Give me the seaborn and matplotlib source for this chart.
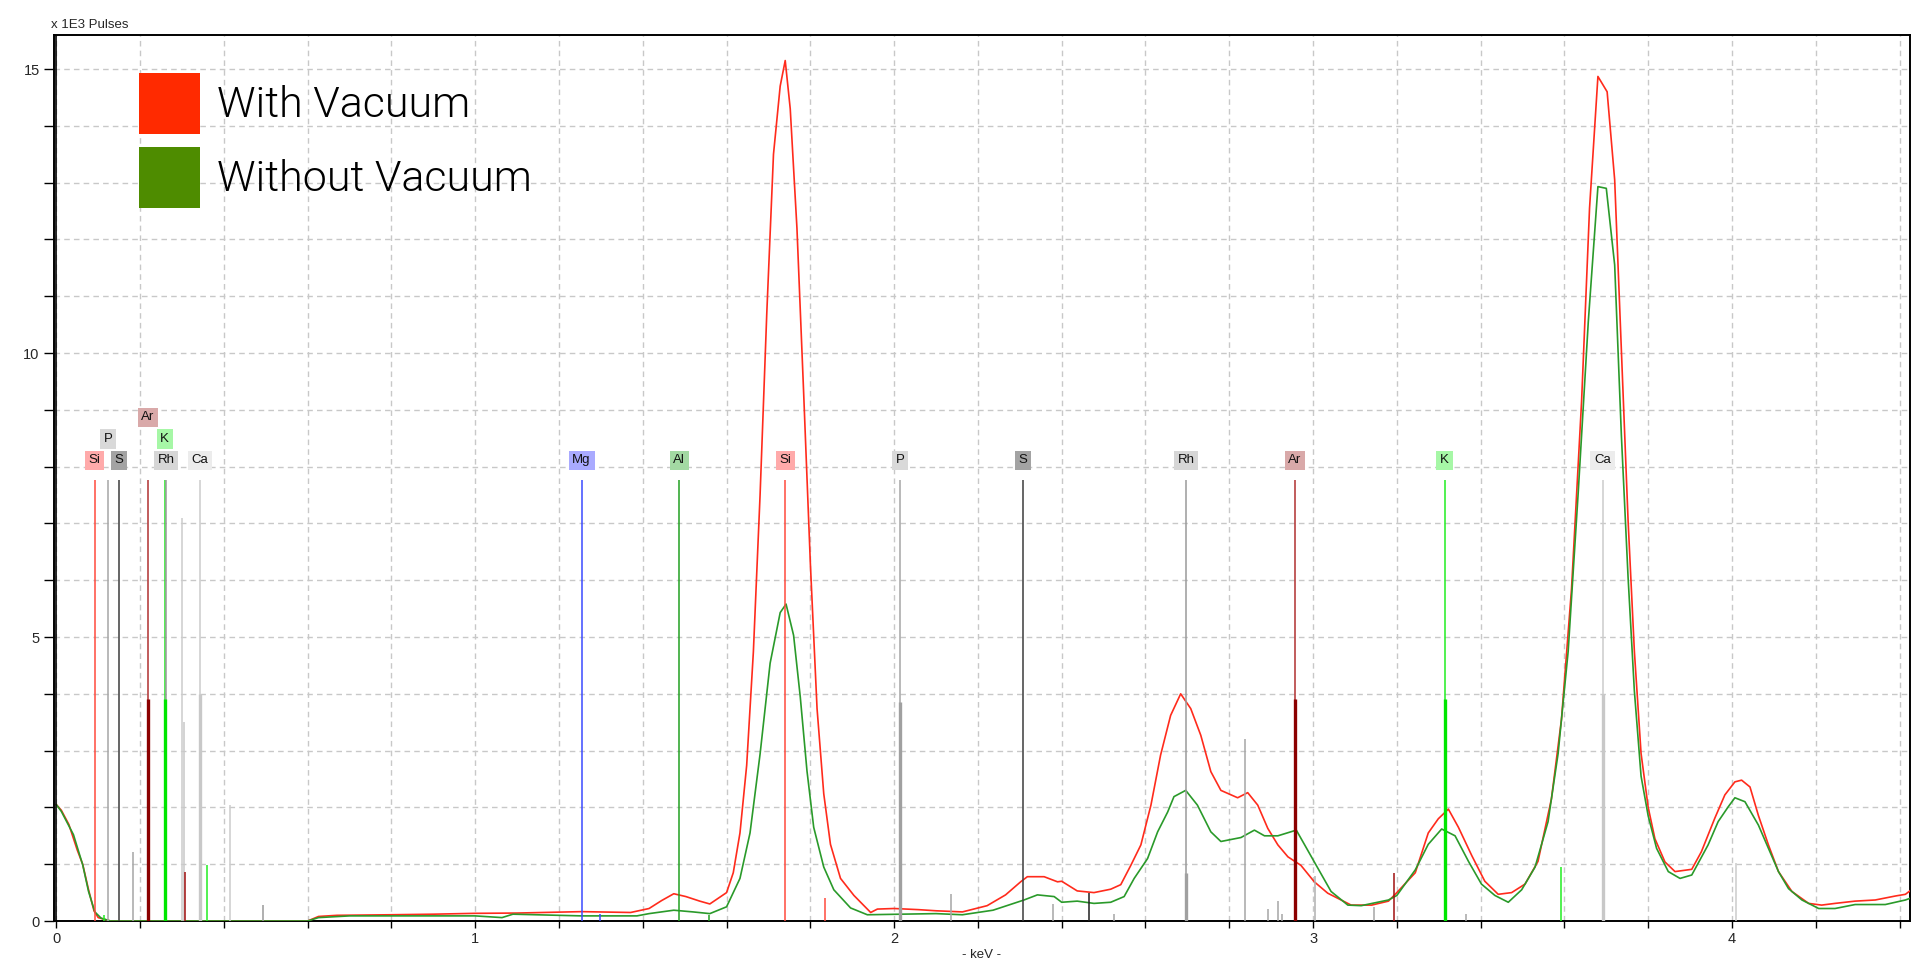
import matplotlib
matplotlib.use("Agg")
import matplotlib.pyplot as plt
from matplotlib.patches import Patch
from matplotlib.ticker import MultipleLocator
import pandas as pd
import seaborn as sns

# spectra: energy in keV, counts in 1E3 pulses
red_kev = [0.0, 0.012, 0.03, 0.05, 0.063, 0.077, 0.09, 0.1, 0.115, 0.13, 0.6, 0.626, 0.67, 0.8, 0.9,
           1.0, 1.1, 1.254, 1.371, 1.415, 1.445, 1.474, 1.503, 1.536, 1.56, 1.6, 1.616, 1.632, 1.648,
           1.664, 1.68, 1.696, 1.712, 1.728, 1.74, 1.752, 1.768, 1.784, 1.8, 1.816, 1.832, 1.848, 1.872,
           1.904, 1.944, 1.96, 2.0, 2.058, 2.1, 2.163, 2.222, 2.266, 2.302, 2.318, 2.358, 2.39, 2.4,
           2.437, 2.477, 2.517, 2.541, 2.565, 2.589, 2.613, 2.636, 2.66, 2.684, 2.708, 2.732, 2.756,
           2.78, 2.82, 2.844, 2.868, 2.892, 2.916, 2.94, 2.971, 3.003, 3.035, 3.067, 3.091, 3.14, 3.18,
           3.2, 3.244, 3.275, 3.299, 3.323, 3.347, 3.379, 3.41, 3.442, 3.474, 3.506, 3.537, 3.569,
           3.593, 3.617, 3.641, 3.66, 3.68, 3.702, 3.72, 3.736, 3.752, 3.767, 3.783, 3.8, 3.816, 3.84,
           3.864, 3.904, 3.927, 3.959, 3.983, 4.007, 4.023, 4.043, 4.063, 4.087, 4.111, 4.143, 4.183,
           4.214, 4.246, 4.294, 4.342, 4.39, 4.414, 4.43, 4.44]
red_cps = [2.05, 1.95, 1.7, 1.25, 1.0, 0.55, 0.18, 0.06, 0.03, 0.0, 0.0, 0.08, 0.1, 0.11, 0.12,
           0.135, 0.14, 0.165, 0.15, 0.22, 0.36, 0.48, 0.43, 0.35, 0.3, 0.5, 0.85, 1.55, 2.74,
           4.74, 7.5, 10.7, 13.5, 14.7, 15.15, 14.3, 12.2, 9.3, 6.3, 3.74, 2.24, 1.35, 0.75,
           0.45, 0.15, 0.21, 0.22, 0.2, 0.18, 0.16, 0.27, 0.46, 0.69, 0.78, 0.78, 0.69, 0.7,
           0.53, 0.5, 0.56, 0.64, 0.98, 1.34, 2.04, 2.92, 3.62, 4.0, 3.74, 3.27, 2.63,
           2.3, 2.17, 2.26, 2.04, 1.63, 1.34, 1.13, 0.98, 0.69, 0.49, 0.37, 0.28, 0.28, 0.35,
           0.5, 0.85, 1.55, 1.8, 1.97, 1.65, 1.15, 0.7, 0.47, 0.5, 0.65, 1.05, 2.15,
           3.55, 5.85, 9.15, 12.55, 14.87, 14.6, 13.05, 10.05, 7.05, 4.75, 2.95, 2.0, 1.45, 1.04,
           0.87, 0.91, 1.22, 1.81, 2.22, 2.45, 2.48, 2.36, 1.86, 1.34, 0.87, 0.52, 0.31,
           0.28, 0.31, 0.35, 0.37, 0.44, 0.47, 0.56, 0.57]

green_kev = [0.0, 0.012, 0.041, 0.063, 0.077, 0.092, 0.107, 0.129, 0.6, 0.626, 0.7, 1.0, 1.064, 1.09,
             1.254, 1.386, 1.415, 1.474, 1.52, 1.56, 1.6, 1.632, 1.656, 1.68, 1.704, 1.728, 1.742,
             1.76, 1.776, 1.792, 1.808, 1.832, 1.856, 1.896, 1.936, 2.016, 2.1, 2.163, 2.236, 2.31,
             2.342, 2.382, 2.4, 2.437, 2.477, 2.517, 2.549, 2.573, 2.605, 2.629, 2.653, 2.668, 2.696,
             2.724, 2.756, 2.78, 2.828, 2.86, 2.884, 2.916, 2.96, 2.98, 3.003, 3.043, 3.083, 3.115,
             3.18, 3.2, 3.244, 3.275, 3.307, 3.339, 3.371, 3.402, 3.434, 3.466, 3.498, 3.53, 3.561,
             3.585, 3.609, 3.633, 3.657, 3.68, 3.7, 3.72, 3.736, 3.752, 3.767, 3.783, 3.8, 3.82,
             3.848, 3.876, 3.904, 3.943, 3.967, 3.991, 4.007, 4.031, 4.063, 4.087, 4.111, 4.135,
             4.167, 4.207, 4.246, 4.294, 4.366, 4.414, 4.44]
green_cps = [2.05, 1.93, 1.52, 0.99, 0.52, 0.16, 0.05, 0.0, 0.0, 0.06, 0.09, 0.09, 0.06, 0.12,
             0.09, 0.09, 0.13, 0.19, 0.16, 0.13, 0.25, 0.75, 1.55, 2.94, 4.54, 5.43, 5.58,
             5.03, 3.94, 2.64, 1.65, 0.95, 0.55, 0.23, 0.11, 0.12, 0.13, 0.11, 0.19, 0.37,
             0.46, 0.43, 0.33, 0.35, 0.31, 0.33, 0.43, 0.75, 1.1, 1.57, 1.92, 2.19, 2.3,
             2.04, 1.57, 1.4, 1.47, 1.6, 1.5, 1.5, 1.6, 1.34, 1.04, 0.52, 0.28, 0.27,
             0.37, 0.45, 0.9, 1.35, 1.62, 1.5, 1.05, 0.65, 0.45, 0.33, 0.55, 0.95, 1.75,
             2.95, 4.75, 7.55, 10.55, 12.93, 12.9, 11.55, 8.55, 6.05, 4.05, 2.55, 1.85, 1.28,
             0.87, 0.75, 0.81, 1.34, 1.75, 2.01, 2.17, 2.1, 1.69, 1.28, 0.87, 0.57,
             0.37, 0.22, 0.22, 0.29, 0.29, 0.37, 0.44]

# labelled element markers
el_names = ["Si", "P", "S", "Ar", "K", "Rh", "Ca",
            "Mg", "Al", "Si", "P", "S", "Rh", "Ar", "K", "Ca"]
el_kev = [0.092, 0.124, 0.150, 0.219, 0.259, 0.262, 0.343,
          1.254, 1.487, 1.740, 2.014, 2.308, 2.697, 2.957, 3.314, 3.691]
el_row = [0, 1, 0, 2, 1, 0, 0,
          0, 0, 0, 0, 0, 0, 0, 0, 0]
el_line_col = ["#ff4a3d", "#a6a6a6", "#3c3c3c", "#b03030", "#22ee22", "#9a9a9a", "#cccccc",
               "#3a4aff", "#22a022", "#ff4a3d", "#a6a6a6", "#3c3c3c", "#9a9a9a", "#b03030", "#22ee22", "#cccccc"]
el_box_col = ["#ffaaaa", "#d9d9d9", "#a3a3a3", "#d9a9a9", "#a6f7a6", "#d6d6d6", "#ececec",
              "#a9aaff", "#a3d9a3", "#ffaaaa", "#d9d9d9", "#a3a3a3", "#d6d6d6", "#d9a9a9", "#a6f7a6", "#ececec"]
marker_top = 7.76
row_y = [8.11, 8.49, 8.87]

# relative line intensities (partial height bars)
bar_kev = [0.219, 0.259, 0.343, 2.014, 2.697, 2.957, 3.314, 3.691,
           0.115, 0.183, 0.301, 0.305, 0.308, 0.360, 0.414, 0.494,
           1.298, 1.557, 1.836, 2.136, 2.380, 2.465, 2.524, 2.838, 2.892, 2.917, 2.926,
           3.004, 3.146, 3.194, 3.365, 3.591, 4.010]
bar_h = [3.9, 3.9, 4.0, 3.85, 0.84, 3.9, 3.9, 4.0,
         0.1, 1.21, 7.1, 3.5, 0.86, 0.98, 2.04, 0.28,
         0.12, 0.1, 0.41, 0.48, 0.3, 0.5, 0.12, 3.2, 0.22, 0.36, 0.12,
         0.79, 0.25, 0.84, 0.12, 0.95, 1.03]
bar_col = ["#8b0000", "#00e600", "#c8c8c8", "#a0a0a0", "#a0a0a0", "#8b0000", "#00e600", "#c8c8c8",
           "#22ee22", "#a6a6a6", "#cccccc", "#c8c8c8", "#a01010", "#22ee22", "#cccccc", "#9a9a9a",
           "#3a4aff", "#22a022", "#ff4a3d", "#a6a6a6", "#a6a6a6", "#202020", "#a6a6a6", "#a6a6a6",
           "#a6a6a6", "#a6a6a6", "#a6a6a6", "#b0b0b0", "#a6a6a6", "#a01010", "#a6a6a6", "#22ee22", "#cccccc"]
bar_w = [2.4, 2.4, 2.4, 2.4, 2.4, 2.4, 2.4, 2.4] + [1.1] * 25

legend_labels = ["With Vacuum", "Without Vacuum"]
legend_cols = ["#ff2a00", "#4e8c00"]

sns.set_style("white")
plt.rcParams["font.family"] = ["Liberation Sans", "DejaVu Sans"]

fig = plt.figure(figsize=(19.2, 9.8), dpi=100)
ax = fig.add_axes([0.0279, 0.0602, 0.9669, 0.9041])

spec = pd.concat([
    pd.DataFrame({"keV": red_kev, "cps": red_cps, "run": "red"}),
    pd.DataFrame({"keV": green_kev, "cps": green_cps, "run": "green"}),
], ignore_index=True)

sns.lineplot(data=spec, x="keV", y="cps", hue="run", palette={"red": "#ff2b1c", "green": "#2a9a2a"},
             estimator=None, sort=False, linewidth=1.2, legend=False, ax=ax, zorder=3)

# element marker lines and labels
ax.vlines(el_kev, 0, marker_top, colors=el_line_col, linewidth=1.1, zorder=4)
ax.vlines(bar_kev, 0, bar_h, colors=bar_col, linewidth=bar_w, zorder=5)
for name, x, r, bc in zip(el_names, el_kev, el_row, el_box_col):
    ax.text(x, row_y[r], name, ha="center", va="center", fontsize=9.5, color="#111111", zorder=6,
            bbox=dict(boxstyle="square,pad=0.28", fc=bc, ec="none"))

ax.axvline(0, color="black", linewidth=1.2, zorder=6)

ax.set_xlim(-0.0065, 4.425)
ax.set_ylim(0, 15.6)
ax.xaxis.set_major_locator(MultipleLocator(1))
ax.xaxis.set_minor_locator(MultipleLocator(0.2))
ax.yaxis.set_major_locator(MultipleLocator(5))
ax.yaxis.set_minor_locator(MultipleLocator(1))
ax.grid(True, which="both", color="#c8c8c8", linestyle=(0, (4, 3)), linewidth=1.0, zorder=0)
ax.set_axisbelow(True)
ax.tick_params(which="both", direction="out", length=7, width=1.0, color="black",
               labelsize=10.5, pad=3, bottom=True, left=True)
ax.tick_params(axis="x", which="both", length=5)
for s in ax.spines.values():
    s.set_color("black")
    s.set_linewidth(1.4)

ax.set_xlabel("- keV -", fontsize=9.5, labelpad=2)
ax.set_ylabel("")
fig.text(51 / 1920, 1 - 25 / 980, "x 1E3 Pulses", fontsize=9.5, va="center", ha="left")

handles = [Patch(facecolor=c, edgecolor="none") for c in legend_cols]
leg = ax.legend(handles, legend_labels, loc="upper left", bbox_to_anchor=(0.0459, 0.957),
                frameon=False, handlelength=1.42, handleheight=1.8,
                handletextpad=0.4, labelspacing=0.3, borderpad=0, borderaxespad=0,
                prop={"family": ["Roboto", "DejaVu Sans"], "weight": 300, "size": 31})
for t in leg.get_texts():
    t.set_color("black")

fig.savefig("out.png", dpi=100)
